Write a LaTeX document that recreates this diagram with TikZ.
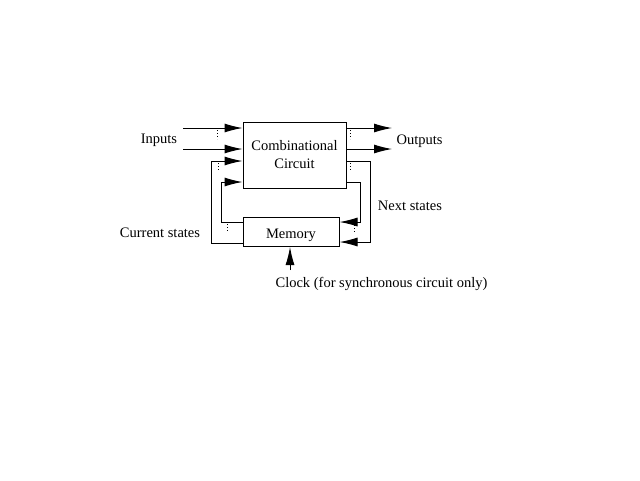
\documentclass[tikz,border=0pt]{standalone}
\usepackage{fontspec}
\setmainfont{Liberation Serif}
\usetikzlibrary{arrows.meta}
\tikzset{
    %Define standard arrow tip
    >={Latex[length=18pt,width=9pt]},
    %Define style for boxes
    blokk/.style={
           rectangle,
           draw=black,
           line width=1pt,
           inner sep=0pt,
           align=center},
    % Define arrow style
    pil/.style={
           ->,
           line width=1pt},
    % Define style for the dotted marks
    prikk/.style={
           line width=1pt,
           dash pattern=on 1pt off 2pt},
    % Define style for labels
    merke/.style={
           anchor=base}
}
\begin{document}
\begin{tikzpicture}[x=1pt,y=-1pt]
  \fontsize{14.5}{18}\selectfont
  \useasboundingbox (0,0) rectangle (640,480);
  \node[blokk,minimum width=103pt,minimum height=66pt] (comb) at (294.5,155) {Combinational\\Circuit};
  \node[blokk,minimum width=96pt,minimum height=29pt,text height=12pt,text depth=0pt] (memory) at (291,232) {Memory};
  \coordinate (in1) at (183,128);
  \coordinate (in2) at (183,149);
  \coordinate (out1) at (392,128);
  \coordinate (out2) at (392,149);
  \coordinate (clk) at (290,270);
  % inputs and outputs
  \draw[pil] (in1) -- (comb.west |- in1);
  \draw[pil] (in2) -- (comb.west |- in2);
  \draw[pil] (comb.east |- out1) -- (out1);
  \draw[pil] (comb.east |- out2) -- (out2);
  % current states
  \draw[pil] (memory.west |- 0,243) -- (211,243) -- (211,161) -- (comb.west |- 0,161);
  \draw[pil] (memory.west |- 0,222) -- (221,222) -- (221,182) -- (comb.west |- 0,182);
  % next states
  \draw[pil] (comb.east |- 0,161) -- (370,161) -- (370,242) -- (memory.east |- 0,242);
  \draw[pil] (comb.east |- 0,182) -- (360,182) -- (360,222) -- (memory.east |- 0,222);
  \draw[pil] (clk) -- (memory.south -| clk);
  % dots
  \draw[prikk] (217,130) -- (217,139);
  \draw[prikk] (218,163) -- (218,172);
  \draw[prikk] (227,224) -- (227,233);
  \draw[prikk] (350,130) -- (350,139);
  \draw[prikk] (350,163) -- (350,172);
  \draw[prikk] (354,225) -- (354,233);
  % labels
  \node[merke] (inputs) at (159,143) {Inputs};
  \node[merke] (outputs) at (419.5,144) {Outputs};
  \node[merke] (current) at (160,237) {Current states};
  \node[merke] (next) at (410,210) {Next states};
  \node[merke] (clock) at (381.5,287) {Clock (for synchronous circuit only)};
\end{tikzpicture}
\end{document}
